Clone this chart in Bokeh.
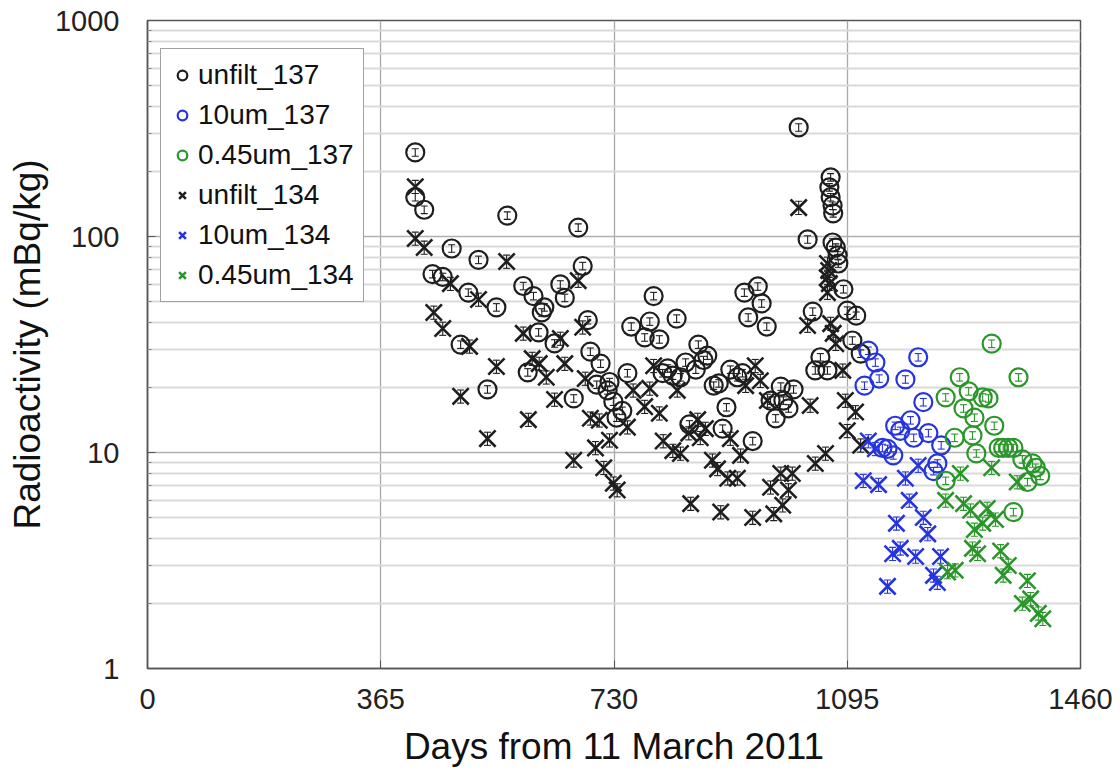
from bokeh.plotting import figure
from bokeh.models import (ColumnDataSource, FixedTicker, NumeralTickFormatter, Whisker,
                          TeeHead, Legend, LegendItem, Range1d)
from bokeh.embed import file_html
from bokeh.resources import INLINE

# ---------------- data (days from 11 March 2011, mBq/kg) ----------------
unfilt_137_day = [419, 419, 433, 563, 674, 476, 518, 681, 446, 462, 588, 646, 502, 604, 653, 546,
                  621, 617, 689, 612, 490, 637, 693, 709, 595, 703, 532, 667,
                  751, 723, 720, 729, 743, 734,
                  792, 757, 786, 778, 801, 828, 862, 876, 870, 842, 814, 806, 822, 834, 858, 886,
                  894, 912, 923, 931, 906, 934, 955, 961, 940, 969, 991, 1011, 975, 995, 1003, 983,
                  848, 900, 947, 1033, 1041, 1053, 1045, 1064, 1019, 1069, 1067, 1069, 1072, 1073,
                  1072, 1077, 1080, 1081, 1089, 1095, 1109, 1103, 1116]
unfilt_137_val = [245, 152, 133, 125, 110, 88, 78, 73, 67, 65, 59, 60, 55, 53, 52, 47,
                  47, 44.5, 41, 36, 31.6, 32, 29.3, 25.8, 23.5, 20.6, 19.6, 17.8,
                  23.3, 21.2, 19.4, 17.2, 15.6, 14.5,
                  53, 38.3, 40.4, 34.1, 33.4, 41.7, 31.6, 28.1, 26.8, 26.1, 24.5, 23.3, 22.7, 22.3, 24.2, 20.4,
                  20.9, 24.2, 22.3, 23.3, 16.2, 55, 58.7, 49, 42.2, 38.3, 20.2, 19.6, 17.4, 17.4, 16, 14.4,
                  13.5, 12.9, 11.3, 96.9, 44.9, 27.6, 24, 24, 320, 188, 169, 152, 139, 128,
                  93.8, 88.9, 81.7, 75, 57, 45.4, 43, 33, 28.7]

um10_137_day = [1128, 1139, 1145, 1122, 1206, 1186, 1214, 1170, 1178, 1194, 1199, 1222, 1242,
                1158, 1167, 1150, 1236, 1230]
um10_137_val = [29.6, 26.1, 22.0, 20.4, 27.6, 21.8, 17.1, 13.3, 12.6, 14.1, 11.7, 12.3, 10.8,
                10.4, 9.7, 10.5, 8.9, 8.2]

um045_137_day = [1321, 1363, 1271, 1249, 1285, 1307, 1316, 1277, 1294, 1325, 1263, 1291, 1297,
                 1332, 1339, 1347, 1355, 1369, 1385, 1390, 1397, 1377, 1249, 1355]
um045_137_val = [31.9, 22.3, 22.3, 18.0, 19.2, 18.0, 17.8, 16.0, 14.5, 13.3, 11.7, 12.0, 9.9,
                 10.5, 10.5, 10.5, 10.5, 9.3, 8.9, 8.5, 7.8, 7.3, 7.4, 5.3]

unfilt_134_day = [419, 419, 433, 562, 674, 474, 518, 448, 462, 681, 588, 646, 504, 602, 613, 546,
                  653, 624, 685, 490, 637, 596, 693, 707, 723, 701, 532, 667, 714, 729, 735,
                  792, 760, 786, 829, 778, 801, 751, 807, 822, 834, 861, 873, 847, 865, 912, 928,
                  884, 892, 908, 923, 850, 897, 947, 980, 994, 1003, 975, 991, 1009, 951, 959, 936,
                  970, 1037, 1045, 1061, 1033, 1069, 1073, 1077, 1088, 1092, 1095, 1108, 1116,
                  1019, 1064, 1066, 1064, 1067, 1064]
unfilt_134_val = [170, 97.9, 89, 76.6, 62.5, 60.5, 51.1, 44.5, 37.5, 38, 35.6, 33.7, 31, 27.2, 25.8, 25,
                  25.8, 22.3, 22, 18.2, 17.6, 14.2, 14.4, 14.1, 11.4, 10.5, 11.6, 9.2, 8.5, 7.2, 6.7,
                  25.2, 19.4, 19.8, 19.4, 16.3, 15.2, 13.1, 11.3, 10.2, 9.9, 14.2, 12.9, 12.3, 11.7, 11.6, 9.7,
                  9.2, 8.4, 7.6, 7.6, 5.8, 5.3, 5.0, 5.2, 5.7, 6.7, 6.9, 8.0, 8.0, 25.2, 21.5, 20.4,
                  17.4, 16.5, 8.9, 9.9, 38.7, 39.5, 35.6, 31.9, 24, 17.4, 12.6, 15.4, 10.8,
                  136, 75, 69.6, 64.5, 60.5, 55]

um10_134_day = [1128, 1139, 1120, 1144, 1186, 1206, 1192, 1172, 1214, 1221, 1166, 1178, 1202,
                1241, 1230, 1236, 1158]
um10_134_val = [11.3, 10.4, 7.4, 7.1, 7.6, 8.7, 6.0, 4.7, 5.0, 4.2, 3.4, 3.6, 3.3,
                3.3, 2.7, 2.5, 2.4]

um045_134_day = [1272, 1321, 1361, 1249, 1277, 1288, 1314, 1327, 1307, 1294, 1291, 1299, 1335,
                 1347, 1339, 1252, 1264, 1377, 1369, 1382, 1394, 1401]
um045_134_val = [8.0, 8.5, 7.3, 6.0, 5.8, 5.4, 5.5, 4.9, 4.7, 4.4, 3.6, 3.4, 3.5,
                 3.0, 2.7, 2.8, 2.85, 2.55, 2.0, 2.1, 1.8, 1.7]

# approximate relative measurement uncertainty shown as error bars
rel_err_137 = 0.04
rel_err_134 = 0.07

x_ticks = [0, 365, 730, 1095, 1460]
y_ticks = [1, 10, 100, 1000]
y_minor = [m * d for d in (1, 10, 100) for m in range(2, 10)]

# ---------------- figure ----------------
FONT = "Liberation Sans"
BLACK = "#1e1e1e"
BLUE = "#2633e0"
GREEN = "#2a962a"

p = figure(width=1120, height=770, y_axis_type="log", output_backend="svg",
           toolbar_location=None, x_range=Range1d(0, 1460), y_range=Range1d(1, 1000),
           min_border_left=147, min_border_right=40, min_border_top=20, min_border_bottom=102)
p.frame_width = 933
p.frame_height = 648

p.outline_line_color = "#555555"
p.outline_line_width = 1.5
p.background_fill_color = "white"

p.xaxis.ticker = FixedTicker(ticks=x_ticks)
p.yaxis.ticker = FixedTicker(ticks=y_ticks, minor_ticks=y_minor)
p.yaxis.formatter = NumeralTickFormatter(format="0")
for ax in (p.xaxis, p.yaxis):
    ax.axis_line_color = "#555555"
    ax.axis_line_width = 1.5
    ax.major_tick_in = 8
    ax.major_tick_out = 0
    ax.minor_tick_in = 4
    ax.minor_tick_out = 0
    ax.major_tick_line_color = "#555555"
    ax.minor_tick_line_color = "#888888"
    ax.major_label_text_font = FONT
    ax.major_label_text_font_size = "29px"
    ax.major_label_text_color = "#222222"
    ax.axis_label_text_font = FONT
    ax.axis_label_text_font_size = "37px"
    ax.axis_label_text_font_style = "normal"
    ax.axis_label_text_color = "#111111"
p.xaxis.minor_tick_line_color = None
p.xaxis.major_label_standoff = 20
p.yaxis.major_label_standoff = 28
p.xaxis.axis_label = "Days from 11 March 2011"
p.yaxis.axis_label = "Radioactivity (mBq/kg)"
p.xaxis.axis_label_standoff = 14
p.yaxis.axis_label_standoff = 4

p.xgrid.ticker = FixedTicker(ticks=x_ticks)
p.xgrid.grid_line_color = "#a8a8a8"
p.xgrid.grid_line_width = 1.3
p.ygrid.ticker = FixedTicker(ticks=y_ticks, minor_ticks=y_minor)
p.ygrid.grid_line_color = "#b0b0b0"
p.ygrid.grid_line_width = 1.3
p.ygrid.minor_grid_line_color = "#dadada"
p.ygrid.minor_grid_line_width = 1.8

series = [
    ("unfilt_137", unfilt_137_day, unfilt_137_val, BLACK, "circle", rel_err_137),
    ("10um_137", um10_137_day, um10_137_val, BLUE, "circle", rel_err_137),
    ("0.45um_137", um045_137_day, um045_137_val, GREEN, "circle", rel_err_137),
    ("unfilt_134", unfilt_134_day, unfilt_134_val, BLACK, "x", rel_err_134),
    ("10um_134", um10_134_day, um10_134_val, BLUE, "x", rel_err_134),
    ("0.45um_134", um045_134_day, um045_134_val, GREEN, "x", rel_err_134),
]

items = []
for name, days, vals, color, marker, rel in series:
    src = ColumnDataSource(dict(day=days, val=vals,
                                lo=[v * (1 - rel) for v in vals],
                                hi=[v * (1 + rel) for v in vals]))
    w = Whisker(source=src, base="day", lower="lo", upper="hi", dimension="height",
                line_color=color, line_width=1.1,
                upper_head=TeeHead(size=7, line_color=color, line_width=1.1),
                lower_head=TeeHead(size=7, line_color=color, line_width=1.1))
    p.add_layout(w)
    if marker == "circle":
        r = p.scatter("day", "val", source=src, marker="circle", size=18,
                      fill_color=None, line_color=color, line_width=2.2)
    else:
        r = p.scatter("day", "val", source=src, marker="x", size=23,
                      line_color=color, line_width=2.6)
    items.append(LegendItem(label=name, renderers=[r]))

legend = Legend(items=items, location=(13, 366), orientation="vertical",
                label_text_font=FONT, label_text_font_size="28px", label_text_color="#111111",
                glyph_width=24, glyph_height=34, spacing=6, padding=9, margin=0,
                label_standoff=4, border_line_color="#444444", border_line_width=1.3,
                background_fill_color="white", background_fill_alpha=1.0)
p.add_layout(legend, "center")

open("out.html", "w").write(file_html(p, INLINE))
